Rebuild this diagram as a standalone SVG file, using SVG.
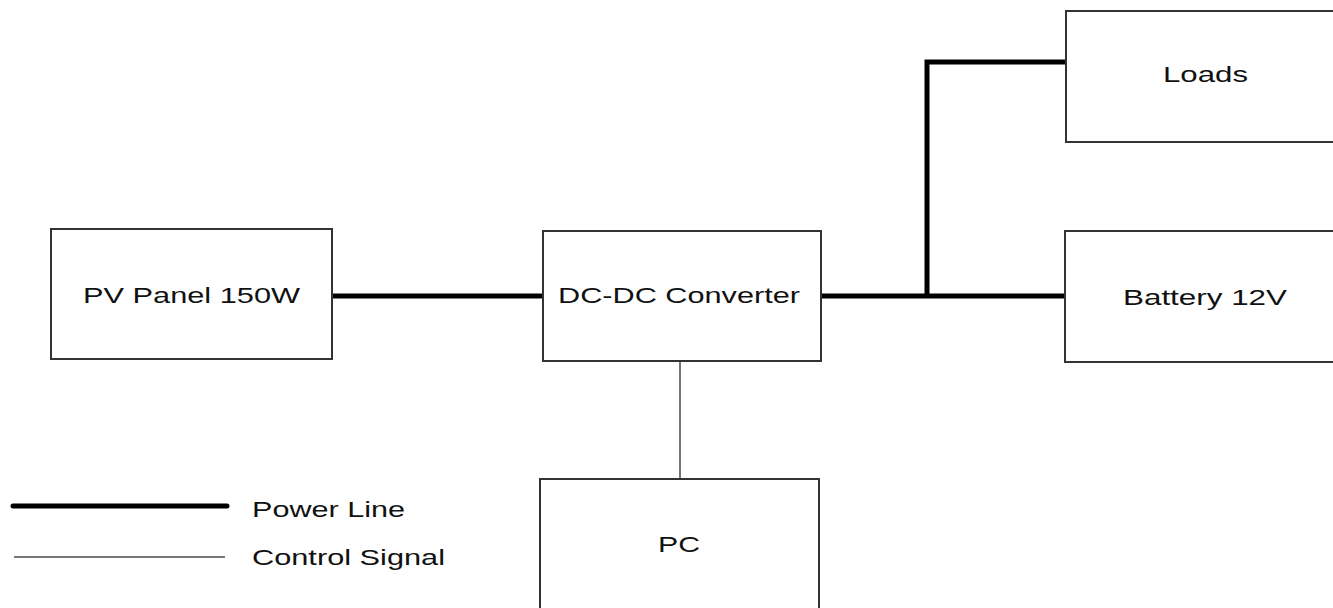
<svg xmlns="http://www.w3.org/2000/svg" width="1333" height="608" viewBox="0 0 1333 608">
<style>
.box{fill:#fff;stroke:#333;stroke-width:2}
.lbl{font-family:"Liberation Sans",Arial,sans-serif;font-size:22px;fill:#111}
.pw{stroke:#000;stroke-width:5;fill:none}
.cs{stroke:#777;stroke-width:2;fill:none}
</style>
<rect width="1333" height="608" fill="#fff"/>
<g id="connectors">
<line class="pw" x1="332" y1="296" x2="543" y2="296"/>
<line class="pw" x1="821" y1="296" x2="1065" y2="296"/>
<polyline class="pw" points="927,296 927,62 1066,62"/>
<line class="cs" x1="680" y1="361" x2="680" y2="479"/>
</g>
<g id="pv"><rect class="box" x="51" y="229" width="281" height="130"/><text class="lbl" x="83" y="303" textLength="217" lengthAdjust="spacingAndGlyphs">PV Panel 150W</text></g>
<g id="dcdc"><rect class="box" x="543" y="231" width="278" height="130"/><text class="lbl" x="558" y="303" textLength="242" lengthAdjust="spacingAndGlyphs">DC-DC Converter</text></g>
<g id="loads"><rect class="box" x="1066" y="11" width="280" height="131"/><text class="lbl" x="1163" y="82" textLength="85" lengthAdjust="spacingAndGlyphs">Loads</text></g>
<g id="battery"><rect class="box" x="1065" y="231" width="280" height="131"/><text class="lbl" x="1123" y="305" textLength="164" lengthAdjust="spacingAndGlyphs">Battery 12V</text></g>
<g id="pc"><rect class="box" x="540" y="479" width="279" height="140"/><text class="lbl" x="658" y="552" textLength="42" lengthAdjust="spacingAndGlyphs">PC</text></g>
<g id="legend">
<line class="pw" x1="13" y1="506" x2="227" y2="506" stroke-linecap="round"/>
<line class="cs" x1="14" y1="557" x2="225" y2="557"/>
<text class="lbl" x="252" y="517" textLength="153" lengthAdjust="spacingAndGlyphs">Power Line</text>
<text class="lbl" x="252" y="565" textLength="193" lengthAdjust="spacingAndGlyphs">Control Signal</text>
</g>
</svg>
